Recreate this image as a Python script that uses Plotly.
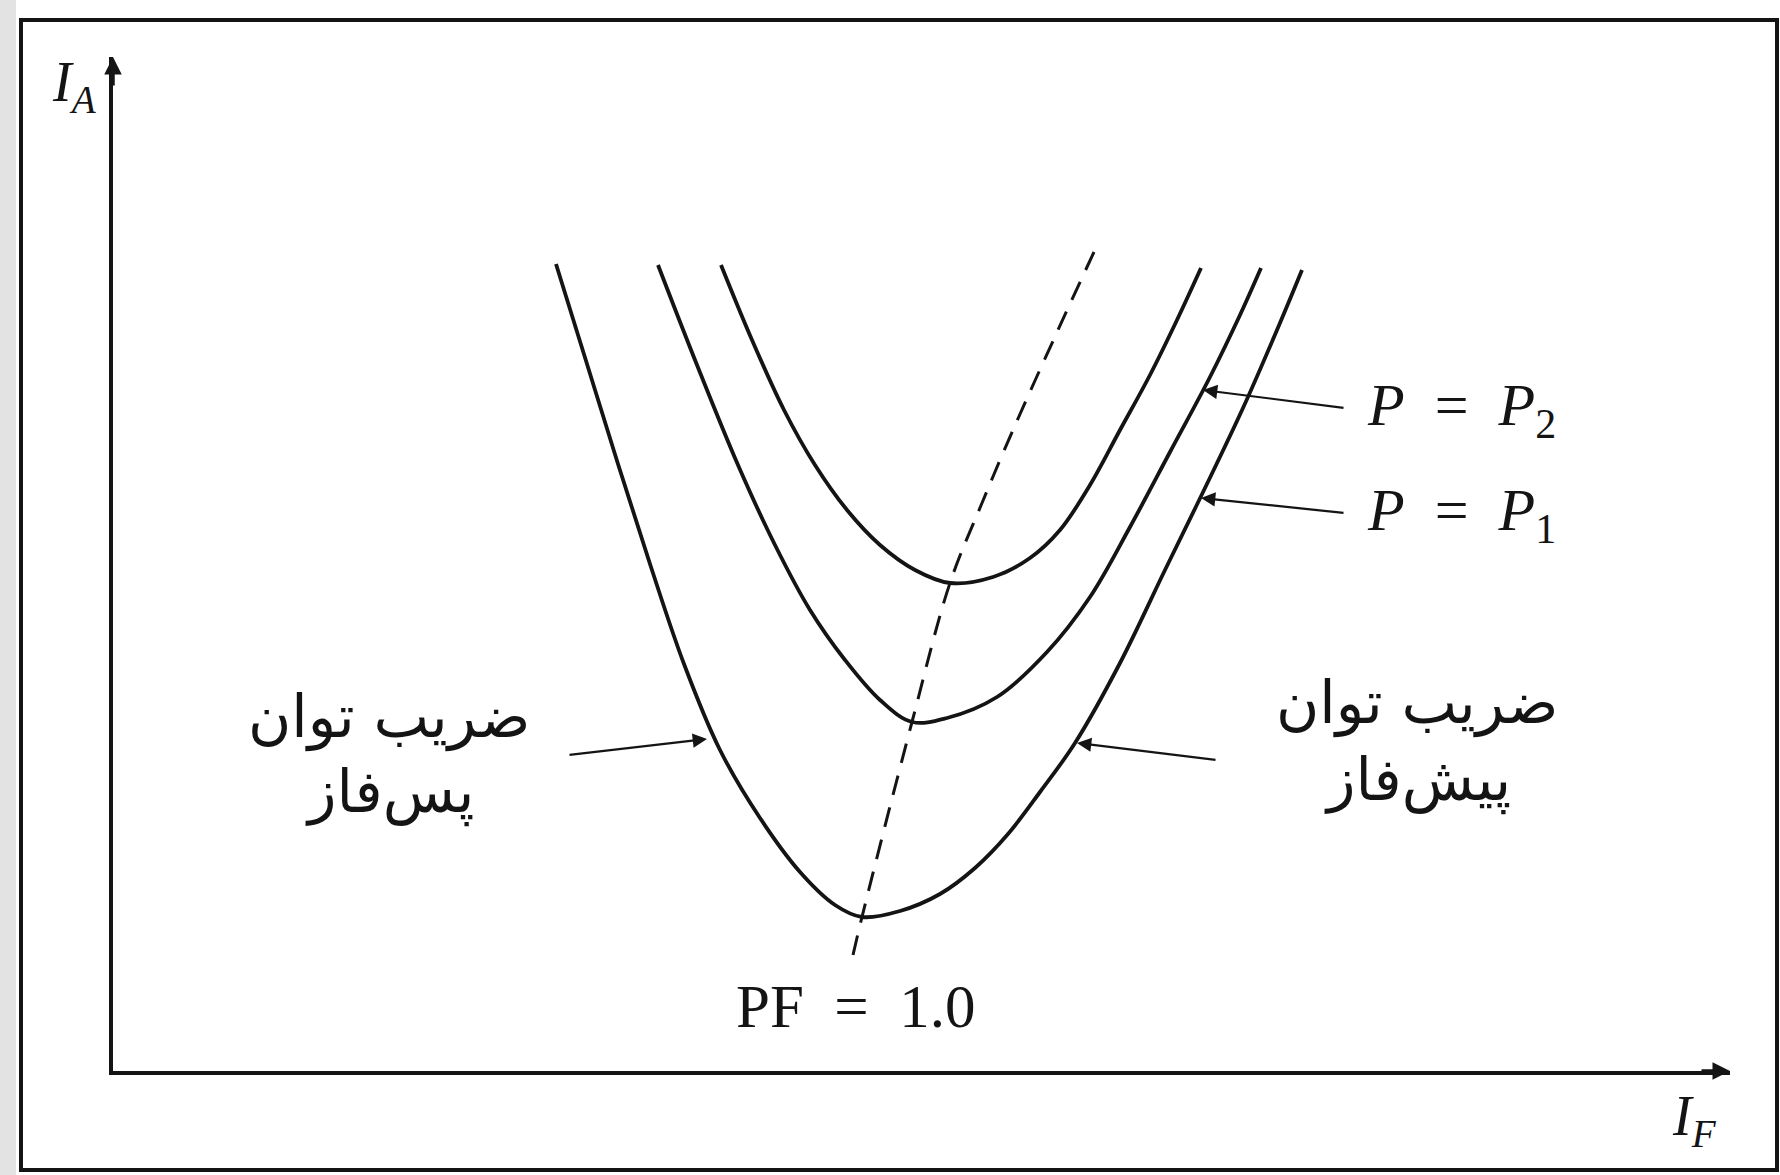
import plotly.graph_objects as go

# V curves of a synchronous motor: armature current I_A against field current I_F
# Lowest curve (P = P1)
if_p1 = [4.43, 4.74, 5.05, 5.37, 5.71, 6.07, 6.47, 6.87, 7.22, 7.49,
         7.87, 8.27, 8.62, 8.95, 9.27, 9.62, 10.07, 10.52, 10.92, 11.30, 11.64, 11.89]
ia_p1 = [8.07, 7.07, 6.07, 5.07, 4.07, 3.21, 2.53, 1.99, 1.66, 1.54,
         1.60, 1.77, 2.03, 2.37, 2.79, 3.28, 4.08, 5.01, 5.83, 6.63, 7.41, 8.01]

# Middle curve (P = P2)
if_p2 = [5.45, 5.84, 6.25, 6.62, 6.97, 7.32, 7.67, 7.99, 8.34, 8.84, 9.34,
         9.77, 10.17, 10.57, 10.97, 11.27, 11.48]
ia_p2 = [8.06, 7.06, 6.06, 5.26, 4.61, 4.11, 3.71, 3.49, 3.53, 3.74, 4.19,
         4.74, 5.44, 6.19, 6.94, 7.56, 8.03]

# Upper curve (highest load)
if_p3 = [6.08, 6.39, 6.71, 7.02, 7.34, 7.67, 8.02, 8.37, 8.80, 9.17, 9.47,
         9.77, 10.07, 10.37, 10.64, 10.88]
ia_p3 = [8.06, 7.31, 6.61, 6.06, 5.61, 5.26, 5.01, 4.88, 4.94, 5.13, 5.41,
         5.86, 6.41, 6.96, 7.51, 8.03]

# Unity power-factor locus through the minima
if_pf = [7.40, 7.49, 7.99, 8.37, 8.69, 9.00, 9.45, 9.81]
ia_pf = [1.16, 1.54, 3.49, 4.88, 5.68, 6.41, 7.41, 8.19]

label_p2 = "<i>P</i>\u2002=\u2002<i>P</i><sub>2</sub>"
label_p1 = "<i>P</i>\u2002=\u2002<i>P</i><sub>1</sub>"
label_pf = "PF\u2002=\u20021.0"
label_lag = ["ضریب توان", "پس‌فاز"]
label_lead = ["ضریب توان", "پیش‌فاز"]
label_ia = "<i>I</i><sub><i>A</i></sub>"
label_if = "<i>I</i><sub><i>F</i></sub>"

INK = "#141414"
SERIF = "Liberation Serif, Times New Roman, serif"
PERSIAN = "DejaVu Sans, Noto Sans, sans-serif"

X_MAX = 16.17
Y_MAX = 10.14

W, H = 1780, 1175
L, R, T, B = 113, 50, 57, 104
PW, PH = W - L - R, H - T - B


def px(xp):
    return (xp - L) / PW


def py(yp):
    return (H - B - yp) / PH


fig = go.Figure()

for xs, ys in [(if_p1, ia_p1), (if_p2, ia_p2), (if_p3, ia_p3)]:
    fig.add_trace(go.Scatter(
        x=xs, y=ys, mode="lines",
        line=dict(color=INK, width=3.8, shape="spline", smoothing=1.0),
        hoverinfo="skip", showlegend=False,
    ))

fig.add_trace(go.Scatter(
    x=if_pf, y=ia_pf, mode="lines",
    line=dict(color=INK, width=3.0, dash="20px,13px", shape="spline", smoothing=1.0),
    hoverinfo="skip", showlegend=False,
))

annotations = []


def pointer(x_tip, y_tip, x_tail, y_tail):
    annotations.append(dict(
        x=x_tip, y=y_tip, ax=x_tail, ay=y_tail, xref="x", yref="y",
        axref="x", ayref="y", text="", showarrow=True,
        arrowhead=2, arrowsize=1.3, arrowwidth=2.2, arrowcolor=INK, standoff=0,
    ))


# leader arrows from the labels to the curves
pointer(10.90, 6.81, 12.32, 6.63)   # P = P2
pointer(10.88, 5.73, 12.32, 5.58)   # P = P1
pointer(5.94, 3.32, 4.55, 3.16)     # lagging PF
pointer(9.64, 3.28, 11.04, 3.11)    # leading PF

# axis arrowheads
annotations.append(dict(x=X_MAX, y=0, ax=X_MAX - 0.3, ay=0, xref="x", yref="y",
                        axref="x", ayref="y", text="", showarrow=True,
                        arrowhead=2, arrowsize=1.0, arrowwidth=3.5, arrowcolor=INK, standoff=0))
annotations.append(dict(x=0, y=Y_MAX, ax=0, ay=Y_MAX - 0.3, xref="x", yref="y",
                        axref="x", ayref="y", text="", showarrow=True,
                        arrowhead=2, arrowsize=1.0, arrowwidth=3.5, arrowcolor=INK, standoff=0))

text_common = dict(xref="x", yref="y", showarrow=False)
annotations += [
    dict(x=12.52, y=6.62, text=label_p2, xanchor="left", yanchor="middle",
         font=dict(family=SERIF, size=60, color=INK), **text_common),
    dict(x=12.52, y=5.57, text=label_p1, xanchor="left", yanchor="middle",
         font=dict(family=SERIF, size=60, color=INK), **text_common),
    dict(x=7.43, y=0.65, text=label_pf, xanchor="center", yanchor="middle",
         font=dict(family=SERIF, size=61, color=INK), **text_common),
]

# two-line Persian captions, one annotation per line for tighter spacing
persian_font = dict(family=PERSIAN, size=59, color=INK)
for (cx, y1, y2), lines in [((389, 717, 792), label_lag), ((1417, 703, 780), label_lead)]:
    for ypix, line in zip((y1, y2), lines):
        annotations.append(dict(x=px(cx), y=py(ypix), xref="paper", yref="paper",
                                text=line, showarrow=False, xanchor="center",
                                yanchor="middle", font=persian_font))

# axis titles sit outside the plotting area, so they are placed in paper units
annotations += [
    dict(x=px(74), y=py(86), xref="paper", yref="paper", text=label_ia, showarrow=False,
         xanchor="center", yanchor="middle", font=dict(family=SERIF, size=56, color=INK)),
    dict(x=px(1694), y=py(1120), xref="paper", yref="paper", text=label_if, showarrow=False,
         xanchor="center", yanchor="middle", font=dict(family=SERIF, size=56, color=INK)),
]

shapes = [
    # shaded strip at the left edge of the page
    dict(type="rect", xref="paper", yref="paper", x0=px(0), x1=px(16), y0=py(H), y1=py(0),
         fillcolor="#e3e3e3", line=dict(width=0), layer="below"),
    # outer frame
    dict(type="rect", xref="paper", yref="paper", x0=px(21), x1=px(1777), y0=py(1170), y1=py(20),
         line=dict(color=INK, width=4), fillcolor="rgba(0,0,0,0)", layer="below"),
]

axis_common = dict(showgrid=False, zeroline=False, showticklabels=False, ticks="",
                   showline=True, linecolor=INK, linewidth=3.5, fixedrange=True)

fig.update_layout(
    width=W, height=H, autosize=False,
    margin=dict(l=L, r=R, t=T, b=B, pad=0),
    paper_bgcolor="white", plot_bgcolor="white",
    xaxis=dict(range=[0, X_MAX], **axis_common),
    yaxis=dict(range=[0, Y_MAX], **axis_common),
    annotations=annotations,
    shapes=shapes,
    showlegend=False,
)

fig.write_html("out.html")
